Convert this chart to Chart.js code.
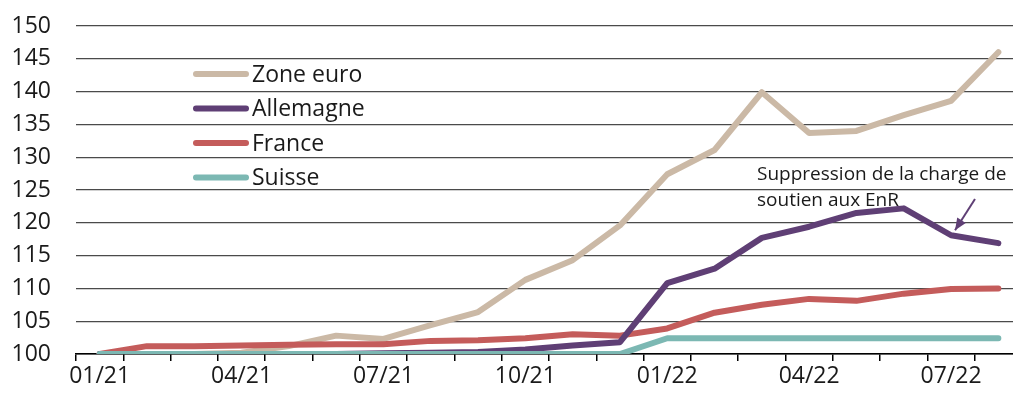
<!DOCTYPE html>
<html>
<head>
<meta charset="utf-8">
<script src="https://cdn.jsdelivr.net/npm/chart.js@4"></script>
<style>
  html, body { margin: 0; padding: 0; background: #fff; overflow: hidden; }
  #wrap { width: 1040px; height: 397px; }
</style>
</head>
<body>
<div id="wrap"><canvas id="prixChart" width="1040" height="397"></canvas></div>
<script>
// Mois (janvier 2021 à août 2022)
const mois = ['01/21', '02/21', '03/21', '04/21', '05/21', '06/21', '07/21', '08/21', '09/21', '10/21',
              '11/21', '12/21', '01/22', '02/22', '03/22', '04/22', '05/22', '06/22', '07/22', '08/22'];

// Indices, base 100 en janvier 2021
const zoneEuro  = [100, 100, 100, 100.2, 101.2, 102.8, 102.3, 104.4, 106.4, 111.3,
                   114.3, 119.6, 127.4, 131.1, 139.9, 133.7, 134.0, 136.4, 138.6, 146.0];
const allemagne = [100, 100, 100, 100, 100, 100, 100.1, 100.2, 100.3, 100.7,
                   101.3, 101.8, 110.8, 113.0, 117.7, 119.4, 121.5, 122.2, 118.1, 116.9];
const france    = [100, 101.2, 101.2, 101.3, 101.4, 101.5, 101.5, 102.0, 102.1, 102.4,
                   103.0, 102.8, 103.9, 106.3, 107.5, 108.4, 108.1, 109.2, 109.9, 110.0];
const suisse    = [100, 100, 100, 100, 100, 100, 100, 100, 100, 100,
                   100, 100, 102.4, 102.4, 102.4, 102.4, 102.4, 102.4, 102.4, 102.4];

const yMin = 100, yMax = 150, yPas = 5;

const couleurs = {
    zoneEuro: '#cbb9a6',
    allemagne: '#5f3f75',
    france: '#c45c5b',
    suisse: '#7cb8b3'
};

const police = "'Open Sans', 'Noto Sans', sans-serif";

// Légende dessinée dans la zone du graphique
const legendeInterne = {
    id: 'legendeInterne',
    afterDraw(chart) {
        const ctx = chart.ctx;
        const ordre = ['Zone euro', 'Allemagne', 'France', 'Suisse'];
        ctx.save();
        ctx.font = '23px ' + police;
        ctx.textBaseline = 'middle';
        ordre.forEach((nom, i) => {
            const ds = chart.data.datasets.find(d => d.label === nom);
            const y = 74 + i * 34.5;
            ctx.strokeStyle = ds.borderColor;
            ctx.lineWidth = 6;
            ctx.lineCap = 'round';
            ctx.beginPath();
            ctx.moveTo(196, y);
            ctx.lineTo(246, y);
            ctx.stroke();
            ctx.fillStyle = '#1a1a1a';
            ctx.fillText(nom, 252, y + 1);
        });
        ctx.restore();
    }
};

// Annotation avec flèche vers le point de juillet 2022 (Allemagne)
const annotation = {
    id: 'annotation',
    afterDraw(chart) {
        const ctx = chart.ctx;
        const x = chart.scales.x.getPixelForValue(18);
        const y = chart.scales.y.getPixelForValue(allemagne[18]);
        ctx.save();
        ctx.font = '19px ' + police;
        ctx.fillStyle = '#1a1a1a';
        ctx.textBaseline = 'alphabetic';
        ctx.fillText('Suppression de la charge de', 757, 180);
        ctx.fillText('soutien aux EnR', 757, 206);

        const x0 = 975, y0 = 199;
        const x1 = x + 4, y1 = y - 5;
        ctx.strokeStyle = couleurs.allemagne;
        ctx.fillStyle = couleurs.allemagne;
        ctx.lineWidth = 2;
        ctx.beginPath();
        ctx.moveTo(x0, y0);
        ctx.lineTo(x1, y1);
        ctx.stroke();
        const ang = Math.atan2(y1 - y0, x1 - x0);
        ctx.beginPath();
        ctx.moveTo(x1, y1);
        ctx.lineTo(x1 - 13 * Math.cos(ang - 0.4), y1 - 13 * Math.sin(ang - 0.4));
        ctx.lineTo(x1 - 13 * Math.cos(ang + 0.4), y1 - 13 * Math.sin(ang + 0.4));
        ctx.closePath();
        ctx.fill();
        ctx.restore();
    }
};

function serie(label, data, couleur, ordre) {
    return {
        label: label,
        data: data,
        borderColor: couleur,
        backgroundColor: couleur,
        borderWidth: 6,
        pointRadius: 0,
        tension: 0,
        borderJoinStyle: 'round',
        borderCapStyle: 'round',
        order: ordre
    };
}

const ctx = document.getElementById('prixChart').getContext('2d');
new Chart(ctx, {
    type: 'line',
    data: {
        labels: mois,
        datasets: [
            serie('Suisse', suisse, couleurs.suisse, 0),
            serie('Allemagne', allemagne, couleurs.allemagne, 1),
            serie('France', france, couleurs.france, 2),
            serie('Zone euro', zoneEuro, couleurs.zoneEuro, 3)
        ]
    },
    options: {
        responsive: false,
        animation: false,
        devicePixelRatio: 1,
        layout: { padding: { top: 26, right: 18, left: 0, bottom: 0 } },
        plugins: {
            legend: { display: false },
            tooltip: { enabled: false }
        },
        scales: {
            x: {
                type: 'category',
                offset: true,
                grid: {
                    offset: true,
                    drawOnChartArea: false,
                    drawTicks: true,
                    tickLength: 7,
                    color: '#000',
                    lineWidth: 1.5
                },
                border: { display: true, color: '#000', width: 1.5 },
                ticks: {
                    autoSkip: false,
                    maxRotation: 0,
                    padding: 2,
                    color: '#1a1a1a',
                    font: { family: police, size: 23 },
                    callback: (v, i) => (i % 3 === 0 ? mois[i] : '')
                },
                afterFit: s => { s.height = 43; }
            },
            y: {
                min: yMin,
                max: yMax,
                grid: {
                    drawTicks: false,
                    color: c => (c.tick.value === yMin ? '#000' : '#4a4a4a'),
                    lineWidth: 1.2
                },
                border: { display: false },
                ticks: {
                    stepSize: yPas,
                    padding: 25,
                    color: '#1a1a1a',
                    font: { family: police, size: 23 }
                },
                // largeur fixe, sans marge verticale ajoutée par le padding des étiquettes
                afterFit: s => {
                    s.width = 76;
                    s.paddingTop = 0;
                    s.paddingBottom = 0;
                }
            }
        }
    },
    plugins: [legendeInterne, annotation]
});
</script>
</body>
</html>
